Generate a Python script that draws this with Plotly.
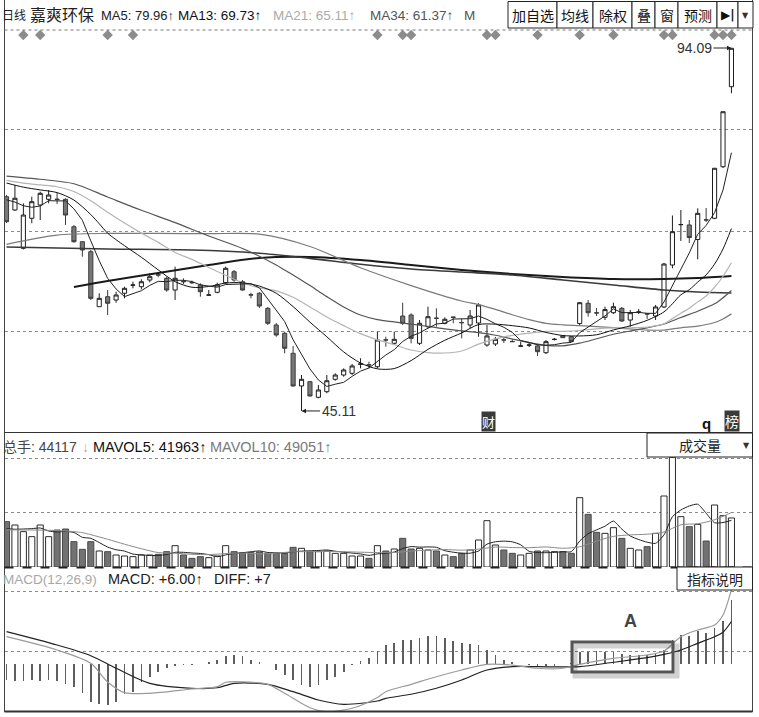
import plotly.graph_objects as go

W, H = 759, 717
FONT = "Liberation Sans, Noto Sans CJK SC, sans-serif"
CJK = "Noto Sans CJK SC, Liberation Sans, sans-serif"

# ---------------- data ----------------
idx = list(range(87))

open_ = [74.02, 72.23, 67.06, 71.11, 72.90, 73.67, 73.70, 73.67, 69.97, 67.95,
         66.60, 59.18, 60.53, 60.08, 60.99, 62.08, 61.88, 62.78, 63.49, 63.01,
         61.43, 62.58, 62.45, 62.11, 60.73, 61.12, 62.42, 63.90, 62.55, 60.79,
         60.99, 58.96, 56.71, 55.59, 52.89, 48.48, 49.06, 46.95, 47.71, 49.38,
         49.96, 50.19, 51.42, 51.34, 51.08, 54.71, 54.24, 57.92, 58.06, 54.24,
         56.48, 57.64, 56.94, 57.78, 57.05, 56.71, 56.98, 54.01, 54.15, 54.71,
         54.49, 53.85, 53.98, 53.88, 52.97, 54.75, 55.23, 55.13, 56.91, 59.64,
         58.36, 57.75, 58.37, 58.96, 57.38, 58.44, 58.22, 57.92, 59.14, 64.81,
         70.24, 70.21, 68.25, 70.91, 71.11, 78.07, 88.87]
high = [74.25, 75.60, 73.13, 74.02, 74.70, 74.93, 74.57, 73.81, 70.21, 68.05,
        66.83, 60.99, 61.43, 61.20, 61.88, 62.55, 62.88, 63.69, 63.77, 63.23,
        64.58, 63.01, 62.69, 62.33, 61.43, 62.42, 64.58, 64.13, 62.78, 61.07,
        61.16, 59.14, 56.98, 55.81, 53.88, 49.96, 49.15, 48.61, 49.96, 50.19,
        50.86, 51.45, 52.22, 51.76, 55.81, 55.13, 55.81, 59.72, 58.29, 57.38,
        59.18, 58.96, 57.75, 57.83, 57.61, 58.74, 59.64, 56.71, 55.09, 55.09,
        54.82, 54.46, 54.28, 54.15, 54.68, 54.96, 55.29, 55.23, 59.81, 60.08,
        59.00, 59.18, 59.72, 59.14, 58.74, 58.87, 58.26, 59.41, 65.08, 71.49,
        72.23, 70.88, 72.46, 72.50, 77.90, 85.52, 94.09]
low = [70.47, 72.10, 66.90, 70.44, 70.88, 73.13, 73.04, 70.21, 67.82, 65.93,
       60.08, 59.18, 58.06, 59.72, 60.31, 61.66, 61.53, 62.47, 63.15, 61.20,
       60.08, 62.24, 62.24, 60.53, 60.66, 60.99, 62.24, 62.55, 61.34, 60.31,
       59.00, 56.71, 55.13, 52.89, 48.40, 45.11, 47.06, 46.82, 47.49, 49.19,
       49.73, 49.96, 50.86, 50.86, 50.86, 53.78, 54.01, 56.71, 54.24, 54.01,
       56.26, 56.48, 56.80, 56.94, 54.91, 56.26, 55.13, 53.78, 53.88, 54.28,
       54.42, 53.81, 53.74, 52.53, 52.80, 54.62, 54.96, 54.42, 56.71, 57.83,
       57.92, 57.38, 58.19, 57.12, 56.48, 58.19, 57.52, 57.38, 59.00, 64.36,
       68.05, 67.78, 65.57, 70.61, 71.00, 77.90, 87.98]
close = [70.65, 73.81, 71.55, 73.35, 74.48, 74.25, 73.65, 71.55, 67.95, 66.83,
         60.31, 60.31, 59.64, 60.76, 61.66, 62.11, 62.55, 63.23, 63.46, 61.43,
         63.01, 62.55, 62.42, 61.20, 60.76, 62.11, 64.36, 62.78, 61.43, 60.76,
         59.27, 56.94, 55.36, 53.57, 48.48, 49.38, 47.13, 47.94, 49.19, 49.96,
         50.64, 51.18, 51.45, 51.31, 54.68, 54.68, 54.78, 56.94, 54.91, 56.94,
         57.83, 57.61, 57.48, 57.75, 57.02, 57.92, 59.41, 55.23, 54.78, 54.68,
         54.46, 53.88, 54.01, 53.11, 54.46, 54.78, 55.00, 54.46, 59.72, 58.37,
         58.33, 58.79, 59.18, 57.25, 58.37, 58.47, 58.19, 59.14, 64.94, 69.30,
         70.27, 68.52, 71.78, 70.88, 77.86, 85.49, 94.05]

ma5 = [73.6, 73.3, 72.8, 72.6, 72.77, 73.49, 73.46, 73.46, 72.38, 70.85,
       68.06, 65.39, 63.01, 61.57, 60.54, 60.90, 61.34, 62.06, 62.60, 62.56,
       62.74, 62.74, 62.57, 62.12, 61.99, 61.81, 62.17, 62.24, 62.29, 62.29,
       61.72, 60.24, 58.75, 57.18, 54.72, 52.75, 50.78, 49.30, 48.42, 48.72,
       48.97, 49.78, 50.48, 50.91, 51.85, 52.66, 53.38, 54.48, 55.20, 55.65,
       56.28, 56.85, 56.95, 57.52, 57.54, 57.56, 57.92, 57.47, 56.87, 56.40,
       55.71, 54.61, 54.36, 54.03, 53.98, 54.05, 54.27, 54.36, 55.68, 56.47,
       57.18, 57.93, 58.88, 58.38, 58.38, 58.41, 58.29, 58.28, 59.82, 62.01,
       64.37, 66.43, 68.96, 70.15, 71.86, 74.91, 79.96]

ma13_x = [0, 2, 4, 6, 8, 10, 11, 12, 14, 16, 18, 20, 22, 24, 26, 28, 30, 32, 34, 36,
          38, 40, 42, 44, 46, 48, 50, 52, 54, 56, 58, 60, 62, 64, 66, 68, 70, 72, 74,
          76, 78, 79, 80, 81, 82, 83, 84, 85, 86]
ma13 = [75.87, 75.31, 74.94, 74.58, 73.57, 71.61, 70.38, 69.10, 67.41, 65.85, 64.15,
        62.56, 61.80, 61.91, 62.37, 62.41, 61.96, 61.00, 59.19, 57.10, 55.12, 53.08,
        51.58, 50.79, 50.83, 51.91, 53.42, 54.65, 55.64, 56.77, 56.82, 56.62, 56.31,
        55.71, 55.29, 55.23, 55.39, 56.04, 56.60, 57.34, 58.48, 59.58, 60.79, 61.47,
        62.50, 63.47, 64.93, 66.96, 69.73]

ma21_x = [0, 2, 4, 6, 8, 10, 12, 14, 16, 18, 20, 22, 24, 26, 28, 30, 32, 34, 36, 38,
          40, 42, 44, 46, 48, 50, 52, 54, 56, 58, 60, 62, 64, 66, 68, 70, 72, 74, 76,
          78, 79, 80, 81, 82, 83, 84, 85, 86]
ma21 = [76.22, 75.86, 75.61, 75.37, 74.73, 73.49, 71.92, 70.46, 69.11, 67.86, 66.50,
        65.57, 64.48, 63.42, 62.42, 61.72, 61.32, 60.45, 59.15, 57.79, 56.63, 55.54,
        54.70, 54.06, 53.33, 52.98, 52.93, 53.20, 54.13, 54.84, 55.32, 55.61, 55.84,
        55.86, 55.97, 56.20, 56.32, 56.34, 56.43, 56.87, 57.57, 58.31, 58.98, 59.83,
        60.63, 61.81, 63.29, 65.11]

ma34_x = [0, 4, 8, 12, 16, 20, 24, 28, 32, 33, 34, 36, 38, 40, 42, 44, 46, 48, 50, 52,
          54, 56, 58, 60, 62, 64, 66, 68, 70, 72, 74, 76, 78, 80, 82, 84, 85, 86]
ma34 = [76.81, 76.38, 75.77, 73.98, 72.19, 70.52, 68.72, 67.03, 64.80, 64.12, 63.47,
        62.03, 60.54, 59.15, 58.06, 57.44, 57.13, 56.82, 56.53, 56.19, 55.91, 55.68,
        55.33, 54.82, 54.34, 53.97, 53.90, 54.26, 54.85, 55.46, 55.90, 56.32, 56.85,
        57.73, 58.57, 59.57, 60.39, 61.37]

ma55_x = [0, 6, 12, 18, 24, 30, 36, 42, 48, 54, 56, 58, 60, 62, 64, 66, 68, 70, 72, 74,
          76, 78, 80, 82, 84, 85, 86]
ma55 = [67.6, 68.84, 69.07, 69.07, 69.03, 68.97, 67.31, 64.43, 62.03, 59.95, 59.46,
        58.82, 58.10, 57.43, 56.93, 56.73, 56.62, 56.49, 56.35, 56.18, 56.02, 56.03,
        56.33, 56.57, 57.05, 57.53, 58.21]

ma_long_a_x = [0, 12, 22, 30, 36, 42, 48, 54, 60, 66, 72, 78, 82, 86]
ma_long_a = [67.24, 66.97, 66.83, 66.40, 65.70, 64.90, 64.27, 63.86, 63.46, 62.78,
             62.11, 61.43, 61.16, 61.03]
ma_long_b_x = [8, 12, 18, 24, 30, 36, 42, 48, 54, 60, 66, 72, 78, 82, 86]
ma_long_b = [61.84, 62.65, 63.73, 64.81, 65.75, 65.89, 65.48, 64.81, 64.13, 63.59,
             63.19, 62.92, 62.92, 63.05, 63.32]

volume = [40800, 37800, 31800, 27300, 37800, 27300, 33300, 34200, 22800, 15900,
          22800, 14400, 13800, 10800, 9900, 9300, 10800, 10800, 11400, 13800,
          19200, 10800, 7800, 9300, 8400, 9900, 19200, 13800, 12900, 12900,
          13500, 12300, 12300, 12300, 17700, 16800, 13800, 13800, 14400, 12300,
          12300, 9900, 9900, 7800, 19200, 14400, 16200, 25800, 16200, 16800,
          15300, 14400, 10800, 9300, 12300, 15300, 24300, 41700, 19800, 15300,
          12300, 10800, 12300, 14400, 14400, 13800, 13800, 12300, 62400, 47400,
          31200, 30300, 35400, 25800, 16800, 15300, 18300, 30300, 63900, 98700,
          45300, 36300, 38400, 23400, 55800, 46200, 44117]

mavol5 = [34500, 34000, 34200, 34500, 35100, 32400, 31500, 31980, 31080, 26700,
          25800, 22020, 17940, 15540, 14340, 11640, 10920, 10320, 10440, 11220,
          13200, 13200, 12600, 12180, 11100, 9240, 10920, 12120, 12840, 13740,
          14460, 13080, 12780, 12660, 13620, 14280, 14580, 14880, 15300, 14220,
          13320, 12540, 11760, 10440, 11820, 12240, 13500, 16680, 18360, 17880,
          18060, 17700, 14700, 13320, 12420, 12420, 14400, 20580, 22680, 23280,
          22680, 19980, 14100, 13020, 12840, 13140, 13740, 13740, 23340, 29940,
          33420, 36720, 41340, 34020, 27900, 24720, 22320, 21300, 28920, 45300,
          51300, 54900, 56520, 48420, 39840, 40020, 41963]

mavol10_x = [0, 2, 4, 6, 8, 9, 10, 12, 14, 16, 18, 20, 22, 24, 26, 28, 30, 32, 34, 36,
             38, 40, 42, 44, 46, 48, 50, 52, 54, 56, 58, 60, 62, 64, 66, 68, 70, 72,
             74, 76, 78, 80, 82, 84, 86]
mavol10 = [33500, 33300, 33200, 32800, 31800, 30900, 29100, 24960, 20520, 16470,
           12990, 12420, 11460, 11160, 12060, 12510, 11850, 12450, 13680, 13830,
           13980, 13800, 13320, 13020, 13020, 14400, 15150, 15690, 15150, 16050,
           18000, 17550, 17340, 18060, 16860, 18180, 23280, 27540, 28920, 29520,
           31470, 38010, 38910, 42570, 49051]

macd_hist = [-1.50, -1.59, -1.59, -1.50, -1.59, -1.50, -1.59, -1.87, -2.15, -2.71,
             -3.55, -3.74, -3.83, -3.55, -2.80, -2.62, -1.68, -1.21, -0.75, -0.37,
             -0.19, -0.09, -0.05, 0.05, 0.19, 0.37, 0.75, 0.84, 0.75, 0.37,
             0.19, 0.05, -0.56, -1.03, -1.50, -1.96, -2.15, -1.96, -1.50, -1.21,
             -0.75, -0.09, 0.28, 0.56, 1.21, 1.78, 1.96, 2.24, 2.24, 2.43,
             2.62, 2.62, 2.43, 2.15, 1.96, 1.87, 1.78, 1.31, 0.84, 0.37,
             0.19, 0.07, -0.07, -0.12, -0.16, -0.12, 0.07, 0.14, 1.19, 1.12,
             1.21, 1.12, 1.12, 0.93, 0.84, 0.84, 0.84, 0.93, 1.31, 2.24,
             2.71, 2.62, 3.08, 2.90, 3.36, 4.02, 6.00]

dea_x = [0, 6, 10, 13, 17, 22, 25, 27, 31, 34, 37, 40, 44, 45, 48, 51, 54, 57, 60, 63,
         66, 68, 72, 76, 78, 80, 82, 84, 85, 86]
dea = [3.05, 1.80, 0.80, -0.37, -1.78, -2.24, -2.19, -1.78, -1.87, -2.56, -3.34, -3.74,
       -3.43, -3.18, -2.80, -2.24, -1.47, -0.53, -0.22, -0.22, -0.25, -0.22, 0.19, 0.62,
       0.93, 1.34, 1.96, 2.58, 3.00, 4.00]
diff_x = [0, 6, 10, 12, 14, 17, 22, 25, 26, 28, 31, 33, 36, 38, 41, 44, 45, 48, 51, 54,
          57, 60, 63, 66, 68, 72, 76, 78, 80, 82, 84, 85, 86]
diff = [2.58, 1.34, 0.09, -1.65, -2.65, -2.71, -2.31, -2.09, -1.68, -1.63, -1.87, -2.71,
        -4.06, -4.43, -4.11, -3.10, -2.56, -1.87, -1.16, -0.53, 0.00, -0.07, -0.37, -0.37,
        0.00, 0.56, 0.87, 1.24, 2.58, 3.21, 3.67, 4.61, 7.00]

event_idx = [2, 4, 12, 15, 44, 47, 48, 57, 58, 63, 68, 72, 78, 79, 84, 85, 86]

header_items = ["日线", "嘉爽环保", "MA5: 79.96↑", "MA13: 69.73↑", "MA21: 65.11↑",
                "MA34: 61.37↑", "M"]
vol_header_items = ["总手: 44117", "↓", "MAVOL5: 41963↑", "MAVOL10: 49051↑"]
macd_header_items = ["MACD(12,26,9)", "MACD: +6.00↑", "DIFF: +7"]
buttons = ["加自选", "均线", "除权", "叠", "窗", "预测", "▶|", "▼"]

# ---------------- helpers (pixel -> paper) ----------------
def X(p):
    return p / W


def Y(p):
    return 1 - p / H


fig = go.Figure()

# candles
fig.add_trace(go.Candlestick(
    x=idx, open=open_, high=high, low=low, close=close,
    increasing=dict(line=dict(color="#1e1e1e", width=1), fillcolor="#ffffff"),
    decreasing=dict(line=dict(color="#3c3c3c", width=1), fillcolor="#787878"),
    whiskerwidth=0, hoverinfo="skip", xaxis="x", yaxis="y"))

# moving averages
fig.add_trace(go.Scatter(x=ma_long_b_x, y=ma_long_b, mode="lines",
                         line=dict(color="#1a1a1a", width=2, shape="spline", smoothing=0.8),
                         hoverinfo="skip", xaxis="x", yaxis="y"))
fig.add_trace(go.Scatter(x=ma_long_a_x, y=ma_long_a, mode="lines",
                         line=dict(color="#3a3a3a", width=1.6, shape="spline", smoothing=0.8),
                         hoverinfo="skip", xaxis="x", yaxis="y"))
fig.add_trace(go.Scatter(x=ma55_x, y=ma55, mode="lines",
                         line=dict(color="#7a7a7a", width=1.2, shape="spline", smoothing=0.8),
                         hoverinfo="skip", xaxis="x", yaxis="y"))
fig.add_trace(go.Scatter(x=ma34_x, y=ma34, mode="lines",
                         line=dict(color="#555555", width=1.2, shape="spline", smoothing=0.8),
                         hoverinfo="skip", xaxis="x", yaxis="y"))
fig.add_trace(go.Scatter(x=ma21_x, y=ma21, mode="lines",
                         line=dict(color="#b4b4b4", width=1.2, shape="spline", smoothing=0.8),
                         hoverinfo="skip", xaxis="x", yaxis="y"))
fig.add_trace(go.Scatter(x=ma13_x, y=ma13, mode="lines",
                         line=dict(color="#111111", width=1, shape="spline", smoothing=0.8),
                         hoverinfo="skip", xaxis="x", yaxis="y"))
fig.add_trace(go.Scatter(x=idx, y=ma5, mode="lines",
                         line=dict(color="#222222", width=1),
                         hoverinfo="skip", xaxis="x", yaxis="y"))

# event diamonds
fig.add_trace(go.Scatter(x=event_idx, y=[0.5] * len(event_idx), mode="markers",
                         marker=dict(symbol="diamond", size=8, color="#8c8c8c"),
                         hoverinfo="skip", xaxis="x", yaxis="y4"))

# volume
up = [c >= o for o, c in zip(open_, close)]
fig.add_trace(go.Bar(
    x=idx, y=volume, width=0.72,
    marker=dict(color=["#ffffff" if u else "#727272" for u in up],
                line=dict(color=["#2a2a2a" if u else "#4a4a4a" for u in up], width=1)),
    hoverinfo="skip", xaxis="x2", yaxis="y2"))
fig.add_trace(go.Scatter(x=idx, y=mavol5, mode="lines",
                         line=dict(color="#222222", width=1, shape="spline", smoothing=0.6),
                         hoverinfo="skip", xaxis="x2", yaxis="y2"))
fig.add_trace(go.Scatter(x=mavol10_x, y=mavol10, mode="lines",
                         line=dict(color="#8a8a8a", width=1, shape="spline", smoothing=0.8),
                         hoverinfo="skip", xaxis="x2", yaxis="y2"))

# MACD
fig.add_trace(go.Bar(x=idx, y=macd_hist, width=0.2,
                     marker=dict(color="#5e5e5e", line=dict(width=0)),
                     hoverinfo="skip", xaxis="x3", yaxis="y3"))
fig.add_trace(go.Scatter(x=dea_x, y=dea, mode="lines",
                         line=dict(color="#222222", width=1.2, shape="spline", smoothing=0.8),
                         hoverinfo="skip", xaxis="x3", yaxis="y3"))
fig.add_trace(go.Scatter(x=diff_x, y=diff, mode="lines",
                         line=dict(color="#9a9a9a", width=1.2, shape="spline", smoothing=0.8),
                         hoverinfo="skip", xaxis="x3", yaxis="y3"))

# ---------------- axes ----------------
xr = [-0.178, 88.44]
xdom = [X(5), X(752)]
xbase = dict(domain=xdom, range=xr, showgrid=False, zeroline=False, showticklabels=False,
             ticks="", showline=False, fixedrange=True)
grid = dict(showticklabels=False, ticks="", showline=False, zeroline=False,
            showgrid=True, gridcolor="#8a8a8a", gridwidth=1, griddash="dot", fixedrange=True)

fig.update_layout(
    width=W, height=H, margin=dict(l=0, r=0, t=0, b=0),
    paper_bgcolor="white", plot_bgcolor="white", showlegend=False,
    font=dict(family=FONT, color="#222"),
    bargap=0,
    xaxis=dict(**xbase, anchor="y", rangeslider=dict(visible=False)),
    xaxis2=dict(**xbase, anchor="y2"),
    xaxis3=dict(**xbase, anchor="y3"),
    yaxis=dict(**grid, domain=[Y(432), Y(30)], range=[42.27, 96.52],
               tickvals=[55.90, 69.39, 83.03], anchor="x"),
    yaxis2=dict(**grid, domain=[Y(567), Y(433)], range=[0, 120600],
                tickvals=[49500, 98100], anchor="x2"),
    yaxis3=dict(**grid, domain=[Y(712), Y(568)], range=[-4.458, 9.0],
                tickvals=[1.15, 6.85], anchor="x3"),
    yaxis4=dict(domain=[Y(40), Y(30)], range=[0, 1], visible=False, anchor="x",
                fixedrange=True),
)

# ---------------- frame shapes ----------------
shapes = []


def line(x0, y0, x1, y1, color="#333", width=1, dash="solid"):
    shapes.append(dict(type="line", xref="paper", yref="paper", x0=X(x0), y0=Y(y0),
                       x1=X(x1), y1=Y(y1), line=dict(color=color, width=width, dash=dash)))


def rect(x0, y0, x1, y1, color="#222", width=1, fill="white"):
    shapes.append(dict(type="rect", xref="paper", yref="paper", x0=X(x0), y0=Y(y0),
                       x1=X(x1), y1=Y(y1), line=dict(color=color, width=width),
                       fillcolor=fill))


line(4.5, 0, 4.5, 712, "#444", 1)
line(752.5, 0, 752.5, 712, "#444", 1)
line(4.5, 30, 752.5, 30, "#777", 1, "dot")
line(4.5, 432.5, 752.5, 432.5, "#333", 1)
line(4.5, 567.5, 752.5, 567.5, "#222", 2, "dash")
line(4.5, 711.5, 752.5, 711.5, "#333", 2)

# buttons
btn_edges = [508, 557, 593, 632, 655, 678, 717, 738, 753]
for i, lab in enumerate(buttons):
    rect(btn_edges[i], 1.5, btn_edges[i + 1], 28, "#222", 1)

rect(647, 433, 752.5, 457, "#222", 1)
rect(677, 567, 752.5, 590, "#222", 1)

# highlight box "A" with shadow
shapes.append(dict(type="rect", xref="paper", yref="paper", x0=X(575), y0=Y(646),
                   x1=X(677), y1=Y(676), line=dict(color="rgba(0,0,0,0.18)", width=5),
                   fillcolor="rgba(0,0,0,0)"))
shapes.append(dict(type="rect", xref="paper", yref="paper", x0=X(572), y0=Y(642),
                   x1=X(673), y1=Y(672), line=dict(color="#555", width=3),
                   fillcolor="rgba(0,0,0,0)"))

fig.update_layout(shapes=shapes)

# ---------------- annotations ----------------
anns = []


def txt(x, y, text, size=14, color="#222", anchor="left", family=FONT, **kw):
    anns.append(dict(x=X(x), y=Y(y), xref="paper", yref="paper", text=text,
                     showarrow=False, xanchor=anchor, yanchor="middle",
                     font=dict(size=size, color=color, family=family), **kw))


# price header
hx = [0, 28, 99, 176, 271, 368, 462]
hcol = ["#222", "#222", "#222", "#111", "#ababab", "#555", "#555"]
hsize = [12, 16, 13, 13.5, 13.5, 13.5, 13.5]
for x, t, c, s in zip(hx, header_items, hcol, hsize):
    txt(x, 16, t, s, c)

# buttons text
for i, lab in enumerate(buttons):
    cx = (btn_edges[i] + btn_edges[i + 1]) / 2
    if lab == "▼":
        txt(cx, 15, lab, 8, "#333", "center", family="DejaVu Sans")
    elif lab == "▶|":
        txt(cx, 15, "<b>" + lab + "</b>", 12, "#111", "center", family="DejaVu Sans")
    else:
        txt(cx, 15, lab, 14, "#111", "center", family=CJK)

# high / low markers
anns.append(dict(x=86, y=94.09, xref="x", yref="y", text="94.09", showarrow=True,
                 arrowhead=2, arrowsize=0.9, arrowwidth=1, arrowcolor="#222",
                 ax=-37, ay=0, font=dict(size=14, color="#333", family=FONT)))
anns.append(dict(x=35, y=45.11, xref="x", yref="y", text="45.11", showarrow=True,
                 arrowhead=2, arrowsize=0.9, arrowwidth=1, arrowcolor="#222",
                 ax=37, ay=0, font=dict(size=14, color="#333", family=FONT)))

# small tags at the bottom of price panel
txt(488, 421, "财", 13, "#ffffff", "center", family=CJK, bgcolor="#3a3a3a", borderpad=0)
txt(706, 423, "<b>q</b>", 15, "#111", "center")
txt(732, 421, "榜", 14, "#ffffff", "center", family=CJK, bgcolor="#3a3a3a", borderpad=0)

# volume header
vx = [1, 80, 91, 208]
vcol = ["#444", "#b0b0b0", "#111", "#7a7a7a"]
vsize = [14, 14, 14.5, 14.5]
for x, t, c, s in zip(vx, vol_header_items, vcol, vsize):
    txt(x, 447, t, s, c)
txt(700, 445, "成交量", 14, "#222", "center", family=CJK)
txt(746, 445, "▼", 8, "#333", "center", family="DejaVu Sans")

# MACD header
mx = [1, 106, 212]
mcol = ["#a8a8a8", "#222", "#222"]
msize = [13.5, 14.5, 14.5]
for x, t, c, s in zip(mx, macd_header_items, mcol, msize):
    txt(x, 579, t, s, c)
txt(715, 579, "指标说明", 14, "#222", "center", family=CJK)

# label A
txt(630, 621, "<b>A</b>", 18, "#444", "center")

fig.update_layout(annotations=anns)

fig.write_html("out.html",
               config={"displayModeBar": False, "staticPlot": True},
               post_script="document.body.style.margin='0px';"
                           "document.body.style.overflow='hidden';")
